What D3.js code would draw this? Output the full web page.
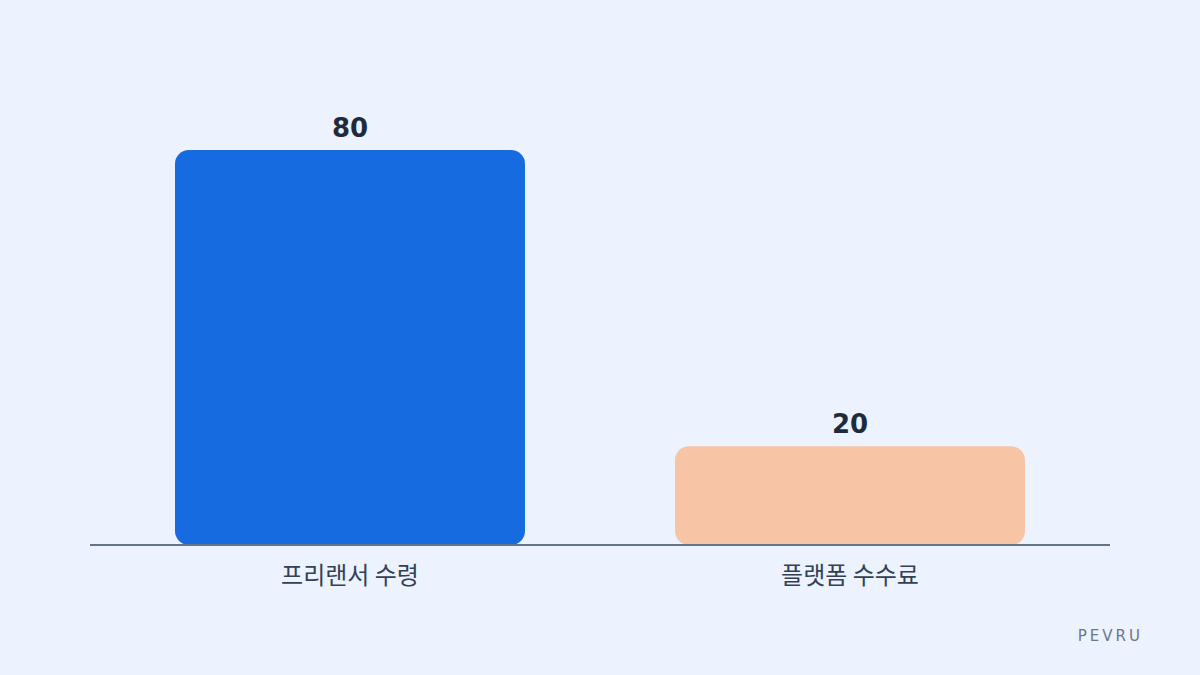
<!DOCTYPE html>
<html>
<head>
<meta charset="utf-8">
<script src="https://cdn.jsdelivr.net/npm/d3@7"></script>
<style>
  body { margin: 0; background: #edf3fe; }
  svg { display: block; }
</style>
</head>
<body>
<svg id="chart" width="1200" height="675"></svg>
<script>
const categories = ["프리랜서 수령", "플랫폼 수수료"];
const values = [80, 20];
const colors = ["#176be0", "#f7c4a5"];

const svg = d3.select("#chart");
const baseY = 545;

svg.append("rect")
    .attr("width", 1200)
    .attr("height", 675)
    .attr("fill", "#edf3fe");

const x = d3.scaleBand()
    .domain(categories)
    .range([90, 1110])
    .paddingInner(0.3)
    .paddingOuter(0.17);

const y = d3.scaleLinear()
    .domain([0, 80])
    .range([baseY, 150]);

// bars
svg.selectAll(".bar")
    .data(values)
    .enter()
    .append("rect")
    .attr("class", "bar")
    .attr("x", (d, i) => x(categories[i]))
    .attr("y", d => y(d))
    .attr("width", x.bandwidth())
    .attr("height", d => baseY - y(d))
    .attr("rx", 14)
    .attr("fill", (d, i) => colors[i]);

// value labels
svg.selectAll(".val")
    .data(values)
    .enter()
    .append("text")
    .attr("x", (d, i) => x(categories[i]) + x.bandwidth() / 2)
    .attr("y", d => y(d) - 13)
    .attr("text-anchor", "middle")
    .style("font-family", "DejaVu Sans, sans-serif")
    .style("font-weight", "bold")
    .style("font-size", "26px")
    .style("fill", "#1f2a3d")
    .text(d => d);

// baseline
svg.append("line")
    .attr("x1", 90)
    .attr("x2", 1110)
    .attr("y1", baseY)
    .attr("y2", baseY)
    .style("stroke", "#64748b")
    .style("stroke-width", 2);

// category labels
svg.selectAll(".cat")
    .data(categories)
    .enter()
    .append("text")
    .attr("x", d => x(d) + x.bandwidth() / 2)
    .attr("y", 584)
    .attr("text-anchor", "middle")
    .style("font-family", "Noto Sans CJK KR, sans-serif")
    .style("font-size", "24px")
    .style("fill", "#334155")
    .text(d => d);

svg.append("text")
    .attr("x", 1143)
    .attr("y", 641)
    .attr("text-anchor", "end")
    .style("font-family", "DejaVu Sans, sans-serif")
    .style("font-size", "15px")
    .style("letter-spacing", "3px")
    .style("fill", "#6b7689")
    .text("PEVRU");
</script>
</body>
</html>
